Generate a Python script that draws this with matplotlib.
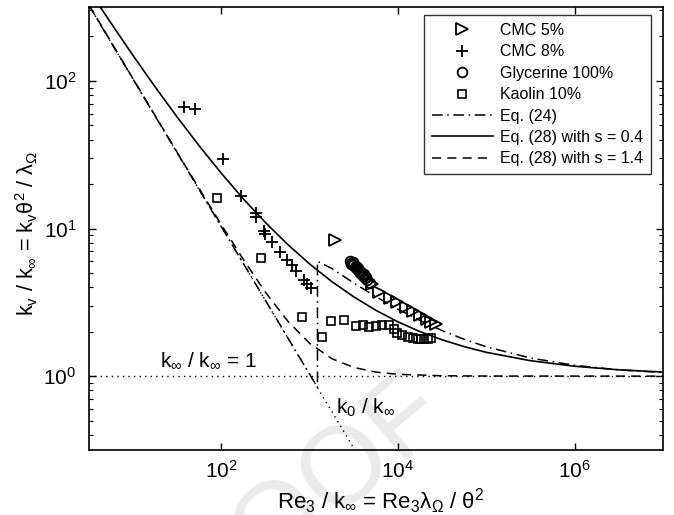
import matplotlib
matplotlib.use('Agg')
import matplotlib.pyplot as plt
from matplotlib.ticker import FixedLocator, NullLocator, LogLocator, NullFormatter

plt.rcParams['font.family'] = ['Liberation Sans', 'DejaVu Sans']
plt.rcParams['mathtext.fontset'] = 'custom'
plt.rcParams['mathtext.rm'] = 'Liberation Sans'
plt.rcParams['mathtext.it'] = 'Liberation Sans:italic'
plt.rcParams['mathtext.default'] = 'regular'

# measured data
cmc5_x = [1954, 5130, 6150, 8000, 9840, 12400, 14600, 17500, 21000, 23900, 27200]
cmc5_y = [8.35, 4.20, 3.71, 3.38, 3.17, 2.93, 2.76, 2.59, 2.43, 2.32, 2.25]

cmc8_x = [38.1, 50.8, 103, 168, 243, 243, 307, 315, 378, 466, 559, 637, 706, 871, 942, 1045]
cmc8_y = [66.4, 64.4, 29.5, 16.6, 12.7, 11.9, 9.60, 9.16, 8.09, 6.92, 6.11, 5.65, 5.14, 4.47, 4.20, 3.95]

gly_x = [2820, 2900, 2965, 3050, 3125, 3295, 3380, 3470, 3560, 3655, 3750, 3850, 3955,
         4055, 4160, 4275, 4380, 4500, 4865]
gly_y = [6.01, 5.75, 5.83, 5.95, 5.65, 5.47, 5.60, 5.31, 5.40, 5.14, 4.99, 5.10, 4.91,
         4.76, 4.90, 4.61, 4.70, 4.47, 4.27]

kao_x = [90.1, 284, 826, 1358, 1762, 2410, 3382, 3955, 4745, 5690, 6655, 7995, 9100,
         9840, 11200, 12800, 14600, 16600, 18400, 19900, 22100, 23900]
kao_y = [16.1, 6.30, 2.51, 1.84, 2.36, 2.39, 2.18, 2.22, 2.15, 2.18, 2.22, 2.22, 2.08,
         1.96, 1.90, 1.84, 1.81, 1.78, 1.78, 1.78, 1.78, 1.81]

# model curves
eq24_x = [3.2, 1222, 1222, 1778, 3162, 5623, 1e4, 17783, 31623, 56234, 1e5, 316228,
          1e6, 3162278, 1e7]
eq24_y = [320, 0.84, 6.0, 5.36, 4.27, 3.45, 2.84, 2.38, 2.035, 1.776, 1.582, 1.327,
          1.184, 1.1035, 1.058]

s04_x = [3.16, 5.62, 10, 17.8, 31.6, 56.2, 100, 178, 316, 562, 1000, 1778, 3162, 5623,
         1e4, 17783, 31623, 56234, 1e5, 316228, 1e6, 3162278, 1e7]
s04_y = [412, 245.7, 148, 90.7, 56.7, 36.2, 23.6, 15.8, 10.95, 7.80, 5.74, 4.37, 3.44,
         2.79, 2.33, 2.00, 1.762, 1.584, 1.450, 1.2725, 1.167, 1.104, 1.066]

s14_x = [3.16, 10, 31.6, 56.2, 100, 178, 316, 562, 1000, 1778, 3162, 5623, 1e4, 31623,
         1e5, 1e7]
s14_y = [326, 103, 32.7, 18.54, 10.58, 6.14, 3.69, 2.363, 1.665, 1.314, 1.1445, 1.0655,
         1.029, 1.006, 1.002, 1.0]

k0_x = [3.2, 3300]
k0_y = [320, 0.31]

fig = plt.figure(figsize=(6.74, 5.15), dpi=100)
ax = fig.add_axes([89 / 674, 65 / 515, 574 / 674, 443 / 515])
ax.set_facecolor('none')

fig.text(0.64, 0.235, 'PROOF', fontsize=80, color='#ebebeb', rotation=40,
         rotation_mode='anchor', ha='right', va='center', zorder=-1)

ax.plot(cmc5_x, cmc5_y, '>', ms=8, mfc='none', mec='k', mew=1.3, label='CMC 5%')
ax.plot(cmc8_x, cmc8_y, '+', ms=8, mec='k', mew=1.3, label='CMC 8%')
ax.plot(gly_x, gly_y, 'o', ms=7, mfc='none', mec='k', mew=1.3, label='Glycerine 100%')
ax.plot(kao_x, kao_y, 's', ms=6, mfc='none', mec='k', mew=1.2, label='Kaolin 10%')
ax.plot(eq24_x, eq24_y, color='k', lw=1.1, dashes=(7, 3, 1, 3), label='Eq. (24)')
ax.plot(s04_x, s04_y, color='k', lw=1.2, label='Eq. (28) with s = 0.4')
ax.plot(s14_x, s14_y, color='k', lw=1.1, dashes=(6, 4), label='Eq. (28) with s = 1.4')
ax.plot(k0_x, k0_y, color='k', lw=1.0, ls=(0, (1, 3)))
ax.axhline(1, color='k', lw=1.0, ls=(0, (1, 3)))

ax.text(20.4, 1.15, r'k$_\infty$ / k$_\infty$ = 1', fontsize=15, va='baseline')
ax.text(2005, 0.553, r'k$_0$ / k$_\infty$', fontsize=15, va='baseline')

ax.set_xscale('log')
ax.set_yscale('log')
ax.set_xlim(10 ** 0.5, 1e7)
ax.set_ylim(10 ** -0.5, 10 ** 2.5)
ax.xaxis.set_major_locator(FixedLocator([1e2, 1e4, 1e6]))
ax.xaxis.set_minor_locator(NullLocator())
ax.yaxis.set_major_locator(FixedLocator([1e0, 1e1, 1e2]))
ax.yaxis.set_minor_locator(LogLocator(base=10, subs=range(2, 10)))
ax.yaxis.set_minor_formatter(NullFormatter())
ax.tick_params(which='both', direction='in', top=True, right=True, labelsize=15)
ax.tick_params(which='major', length=5, width=1)
ax.tick_params(which='minor', length=3, width=0.8)
ax.tick_params(axis='y', pad=9)
ax.tick_params(axis='x', pad=7)
for sp in ax.spines.values():
    sp.set_linewidth(1.2)

ax.set_xlabel(r'Re$_3$ / k$_\infty$ = Re$_3$λ$_\Omega$ / θ$^2$', fontsize=16)
ax.set_ylabel(r'k$_v$ / k$_\infty$ = k$_v$θ$^2$ / λ$_\Omega$', fontsize=15.5)
ax.xaxis.set_label_coords(0.509, -0.082)
ax.yaxis.set_label_coords(-0.085, 0.49)

leg = ax.legend(loc='upper right', bbox_to_anchor=(0.979, 0.982), borderaxespad=0,
                fontsize=11.5, handlelength=3.8, handletextpad=0.45, labelspacing=0.4,
                borderpad=0.5, frameon=True, fancybox=False, edgecolor='k')
leg.get_frame().set_linewidth(1.0)

fig.savefig('out.png', dpi=100)
